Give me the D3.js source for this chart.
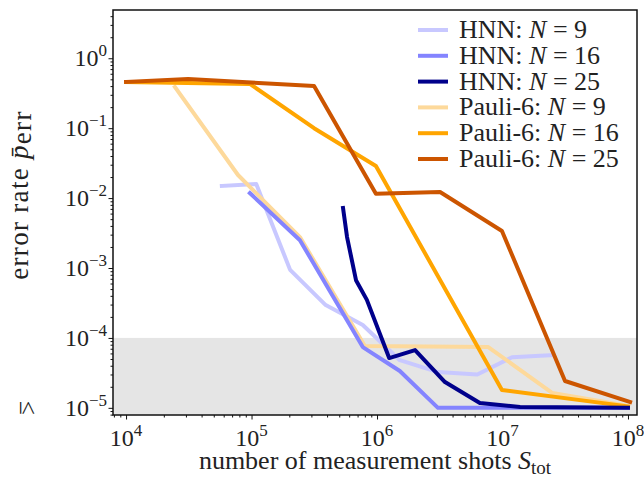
<!DOCTYPE html>
<html>
<head>
<meta charset="utf-8">
<script src="https://cdn.jsdelivr.net/npm/d3@7"></script>
<style>
  body { margin: 0; background: #fff; }
  text { font-family: "Liberation Serif", "DejaVu Serif", serif; fill: #222; }
</style>
</head>
<body>
<svg id="chart" width="644" height="477"></svg>
<script>
// values: [shots, error rate]
const hnn9 = [[5.8e4, 0.0149], [1.09e5, 0.0159], [2.03e5, 9.4e-4], [3.9e5, 2.95e-4], [7.7e5, 1.53e-4],
  [1.52e6, 4.8e-5], [3.06e6, 3.25e-5], [6.3e6, 3.0e-5], [1.19e7, 5.3e-5], [2.5e7, 5.7e-5]];
const hnn16 = [[9.7e4, 0.0118], [2.43e5, 2.5e-3], [7.7e5, 7.4e-5], [1.52e6, 3.36e-5], [3.06e6, 1e-5],
  [6.3e6, 1e-5], [1.25e7, 1e-5], [2.5e7, 1e-5], [5e7, 1e-5], [1e8, 1e-5]];
const hnn25 = [[5.36e5, 7.2e-3], [5.77e5, 2.77e-3], [6.8e5, 6.7e-4], [8.3e5, 3.5e-4], [1.25e6, 5.15e-5],
  [2.01e6, 6.7e-5], [3.48e6, 2.34e-5], [6.6e6, 1.17e-5], [1.38e7, 1.03e-5], [1e8, 1e-5]];
const pauli9 = [[2.45e4, 0.389], [7.8e4, 0.0214], [2.43e5, 2.77e-3], [8.0e5, 7.65e-5], [7.7e6, 7.4e-5],
  [2.5e7, 1.63e-5], [1e8, 1.07e-5]];
const pauli16 = [[1e4, 0.458], [9.7e4, 0.43], [3.15e5, 0.1], [9.8e5, 0.0288], [9.9e6, 1.8e-5], [1e8, 1.05e-5]];
const pauli25 = [[1e4, 0.458], [3.12e4, 0.506], [3.15e5, 0.40], [9.8e5, 0.0115], [3.18e6, 0.0122],
  [9.9e6, 3.39e-3], [3.15e7, 2.42e-5], [1.04e8, 1.21e-5]];

const seriesNames = ["HNN", "HNN", "HNN", "Pauli-6", "Pauli-6", "Pauli-6"];
const seriesN = [9, 16, 25, 9, 16, 25];
const seriesData = [hnn9, hnn16, hnn25, pauli9, pauli16, pauli25];
const seriesColors = ["#c8c8ff", "#8484ff", "#00008b", "#fdd99b", "#ffa500", "#cc5500"];
const drawOrder = [0, 3, 1, 4, 2, 5];

const xTickExps = [4, 5, 6, 7, 8];
const yTickExps = [0, -1, -2, -3, -4, -5];
const threshold = 1e-4;

const svg = d3.select("#chart");
const mLeft = 113, mRight = 637, mTop = 10, mBottom = 415;

const x = d3.scaleLog().domain([7870, 1.18e8]).range([mLeft, mRight]);
const y = d3.scaleLog().domain([7.9e-6, 4.9]).range([mBottom, mTop]);

// shaded region below threshold
svg.append("rect")
  .attr("x", mLeft)
  .attr("y", y(threshold))
  .attr("width", mRight - mLeft)
  .attr("height", mBottom - y(threshold))
  .attr("fill", "#e5e5e5");

const line = d3.line().x((d) => x(d[0])).y((d) => y(d[1]));

const plot = svg.append("g");
drawOrder.forEach((i) => {
  plot.append("path")
    .datum(seriesData[i])
    .attr("d", line)
    .attr("fill", "none")
    .attr("stroke", seriesColors[i])
    .attr("stroke-width", 4)
    .attr("stroke-linejoin", "round")
    .attr("stroke-linecap", "square");
});

// minor ticks
const minorX = [];
for (let e = 3; e <= 8; e++) for (let m = 2; m <= 9; m++) {
  const v = m * Math.pow(10, e);
  if (v > x.domain()[0] && v < x.domain()[1]) minorX.push(v);
}
const minorY = [];
for (let e = -6; e <= 0; e++) for (let m = 2; m <= 9; m++) {
  const v = m * Math.pow(10, e);
  if (v > y.domain()[0] && v < y.domain()[1]) minorY.push(v);
}

svg.append("g")
  .attr("transform", `translate(0,${mBottom})`)
  .call(d3.axisBottom(x).tickValues(minorX).tickSize(2.5).tickFormat(""))
  .call((g) => g.select(".domain").remove());
svg.append("g")
  .attr("transform", `translate(0,${mBottom})`)
  .call(d3.axisBottom(x).tickValues(xTickExps.map((e) => Math.pow(10, e))).tickSize(4.5).tickFormat(""))
  .call((g) => g.select(".domain").remove());
svg.append("g")
  .attr("transform", `translate(${mLeft},0)`)
  .call(d3.axisLeft(y).tickValues(minorY).tickSize(2.5).tickFormat(""))
  .call((g) => g.select(".domain").remove());
svg.append("g")
  .attr("transform", `translate(${mLeft},0)`)
  .call(d3.axisLeft(y).tickValues(yTickExps.map((e) => Math.pow(10, e))).tickSize(4.5).tickFormat(""))
  .call((g) => g.select(".domain").remove());
svg.selectAll(".tick line").attr("stroke", "#111").attr("stroke-width", 1);

// frame
svg.append("rect")
  .attr("x", mLeft).attr("y", mTop)
  .attr("width", mRight - mLeft).attr("height", mBottom - mTop)
  .attr("fill", "none").attr("stroke", "#111").attr("stroke-width", 1.5);

// tick labels 10^e
function powLabel(sel, e) {
  sel.append("tspan").text("10");
  sel.append("tspan").attr("dy", -10).attr("font-size", 17).text(e < 0 ? "\u2212" + (-e) : e);
}

xTickExps.forEach((e) => {
  svg.append("text")
    .attr("x", x(Math.pow(10, e)))
    .attr("y", 446)
    .attr("text-anchor", "middle")
    .attr("font-size", 24)
    .call(powLabel, e);
});
yTickExps.forEach((e) => {
  svg.append("text")
    .attr("x", 107)
    .attr("y", y(Math.pow(10, e)) + 8)
    .attr("text-anchor", "end")
    .attr("font-size", 24)
    .call(powLabel, e);
});
svg.append("text")
  .attr("transform", `translate(27,${y(1e-5)}) rotate(90)`)
  .attr("text-anchor", "middle")
  .attr("dy", 7)
  .attr("font-size", 25)
  .text("\u2264");

// axis labels
const xl = svg.append("text")
  .attr("x", 375).attr("y", 469)
  .attr("text-anchor", "middle")
  .attr("font-size", 26);
xl.append("tspan").text("number of measurement shots ");
xl.append("tspan").attr("font-style", "italic").text("S");
xl.append("tspan").attr("dy", 5).attr("font-size", 19).text("tot");

const yl = svg.append("text")
  .attr("transform", "translate(28,195) rotate(-90)")
  .attr("text-anchor", "middle")
  .attr("font-size", 27)
  .attr("letter-spacing", 1.3);
yl.append("tspan").text("error rate ");
yl.append("tspan").attr("font-style", "italic").text("p\u0304");
yl.append("tspan").attr("dy", 3).text("err");

// legend
const legend = svg.append("g");
seriesNames.forEach((name, i) => {
  const ly = 30 + i * 25.8;
  legend.append("line")
    .attr("x1", 418).attr("x2", 448)
    .attr("y1", ly).attr("y2", ly)
    .attr("stroke", seriesColors[i])
    .attr("stroke-width", 4);
  const t = legend.append("text")
    .attr("x", 459).attr("y", ly + 8)
    .attr("font-size", 26);
  t.append("tspan").text(name + ": ");
  t.append("tspan").attr("font-style", "italic").text("N");
  t.append("tspan").text(" = " + seriesN[i]);
});
</script>
</body>
</html>
